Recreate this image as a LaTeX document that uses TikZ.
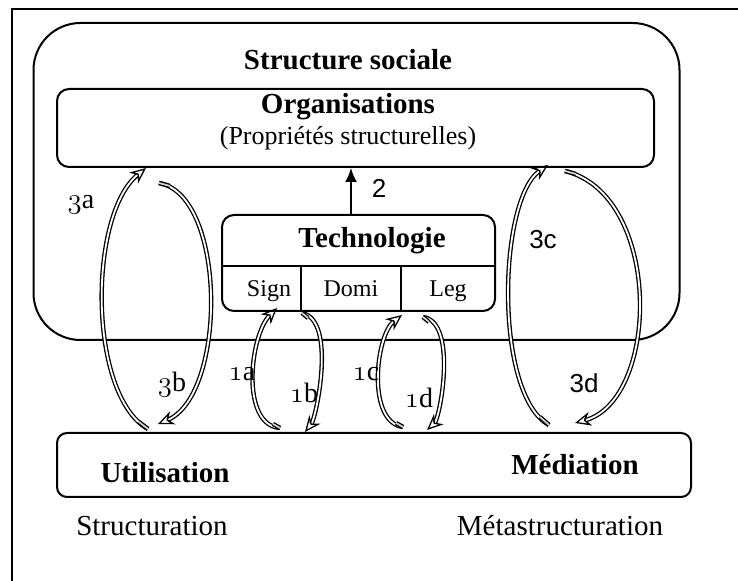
\documentclass[tikz,border=0pt]{standalone}
\usepackage{fontspec}
\setmainfont{Liberation Serif}
\setsansfont{Liberation Sans}
\usetikzlibrary{arrows.meta,calc}
\newcommand{\osnum}[1]{$\mathnormal{#1}$}

\begin{document}
\begin{tikzpicture}[x=0.5pt, y=-0.5pt,
  box/.style={draw, line width=1pt, rounded corners=6pt, inner sep=0pt},
  title/.style={font=\fontsize{14.5}{17}\selectfont\bfseries},
  plain/.style={font=\fontsize{14.5}{17}\selectfont},
  small/.style={font=\fontsize{12}{14}\selectfont},
  cell/.style={small, anchor=base},
  tag/.style={font=\fontsize{14}{16}\selectfont},
  sanstag/.style={font=\fontsize{13}{15}\sffamily},
  flow/.style={draw, line width=0.65pt, double=white, double distance=0.9pt,
    -{Stealth[open, length=8pt, width=7pt]}},
  tail/.style={draw, line width=0.65pt, double=gray!35, double distance=0.9pt}]
  \useasboundingbox (0,0) rectangle (738,581);
  \draw[line width=0.7pt] (12,581) -- (12,9) -- (738,9);

  % boxes
  \node[box, rounded corners=23.5pt, minimum width=323pt, minimum height=158.5pt] (social) at (356.5,181.5) {};
  \node[title] (socialname) at (348,60) {Structure sociale};
  \node[box, minimum width=298.5pt, minimum height=39pt] (orga) at (355.5,128) {};
  \node[title] (organame) at (348,107) {Organisations};
  \node[font=\fontsize{13}{15}\selectfont] (orgaprop) at (348,138) {(Propriétés structurelles)};
  \node[box, minimum width=136.5pt, minimum height=48pt] (techno) at (358.5,263) {};
  \node[title] (technoname) at (372,241) {Technologie};
  \coordinate (sep) at (0,266);
  \coordinate (div1) at (301,0);
  \coordinate (div2) at (401,0);
  \draw[line width=1pt] (techno.west |- sep) -- (techno.east |- sep)
    (div1 |- sep) -- (div1 |- techno.south)
    (div2 |- sep) -- (div2 |- techno.south);
  \node[cell] (sign) at (269,297) {Sign};
  \node[cell] (domi) at (351,297) {Domi};
  \node[cell] (leg) at (448,297) {Leg};
  \node[box, rounded corners=5pt, minimum width=317pt, minimum height=32pt] (usage) at (374,465) {};
  \node[title] (usename) at (165,473) {Utilisation};
  \node[title] (medname) at (575,465) {Médiation};
  \node[plain] (structname) at (152,526) {Structuration};
  \node[plain] (metaname) at (560,526) {Métastructuration};

  % arrow 2
  \coordinate (x2) at (351,0);
  \draw[line width=1pt, -{Latex[length=7pt, width=6pt]}] (x2 |- techno.north) -- (x2 |- orga.south);
  \node[sanstag] (lab2) at (379,188) {2};

  % end points of the loops
  \coordinate (3a-s) at (148,429);  \coordinate (3a-e) at (146,168);
  \coordinate (3b-s) at (159,183);  \coordinate (3b-e) at (158,424);
  \coordinate (3c-s) at (549,425);  \coordinate (3c-e) at (548,165);
  \coordinate (3d-s) at (565,171);  \coordinate (3d-e) at (575,423);
  \coordinate (1a-s) at (280,428);  \coordinate (1a-e) at (277,308);
  \coordinate (1b-s) at (302,313);  \coordinate (1b-e) at (305,432);
  \coordinate (1c-s) at (403,427);  \coordinate (1c-e) at (402,315);
  \coordinate (1d-s) at (423,317);  \coordinate (1d-e) at (427,430);

  \draw[flow] (3a-s) .. controls (88,395) and (88,215) .. (3a-e);
  \draw[flow] (3b-s) .. controls (227,195) and (227,395) .. (3b-e);
  \draw[flow] (3c-s) .. controls (494,395) and (498,200) .. (3c-e);
  \draw[flow] (3d-s) .. controls (663,195) and (660,400) .. (3d-e);
  \draw[flow] (1a-s) .. controls (240,425) and (250,335) .. (1a-e);
  \draw[flow] (1b-s) .. controls (337,320) and (316,418) .. (1b-e);
  \draw[flow] (1c-s) .. controls (366,422) and (376,335) .. (1c-e);
  \draw[flow] (1d-s) .. controls (458,322) and (440,418) .. (1d-e);

  % grey tails
  \draw[tail] (3a-s) -- ++(-9,-7);
  \draw[tail] (3b-s) -- ++(11,3);
  \draw[tail] (3c-s) -- ++(-9,-8);
  \draw[tail] (3d-s) -- ++(11,3);
  \draw[tail] (1a-s) -- ++(-7,-4);
  \draw[tail] (1b-s) -- ++(6,5);
  \draw[tail] (1c-s) -- ++(-7,-4);
  \draw[tail] (1d-s) -- ++(6,5);

  % labels
  \node[tag] (lab3a) at (81,205) {\osnum{3}a};
  \node[tag] (lab3b) at (172,385) {\osnum{3}b};
  \node[sanstag] (lab3c) at (543,240) {3c};
  \node[sanstag] (lab3d) at (584,383) {3d};
  \node[tag] (lab1a) at (242,374) {\osnum{1}a};
  \node[tag] (lab1b) at (304,393) {\osnum{1}b};
  \node[tag] (lab1c) at (366,374) {\osnum{1}c};
  \node[tag] (lab1d) at (419,398) {\osnum{1}d};
\end{tikzpicture}
\end{document}
